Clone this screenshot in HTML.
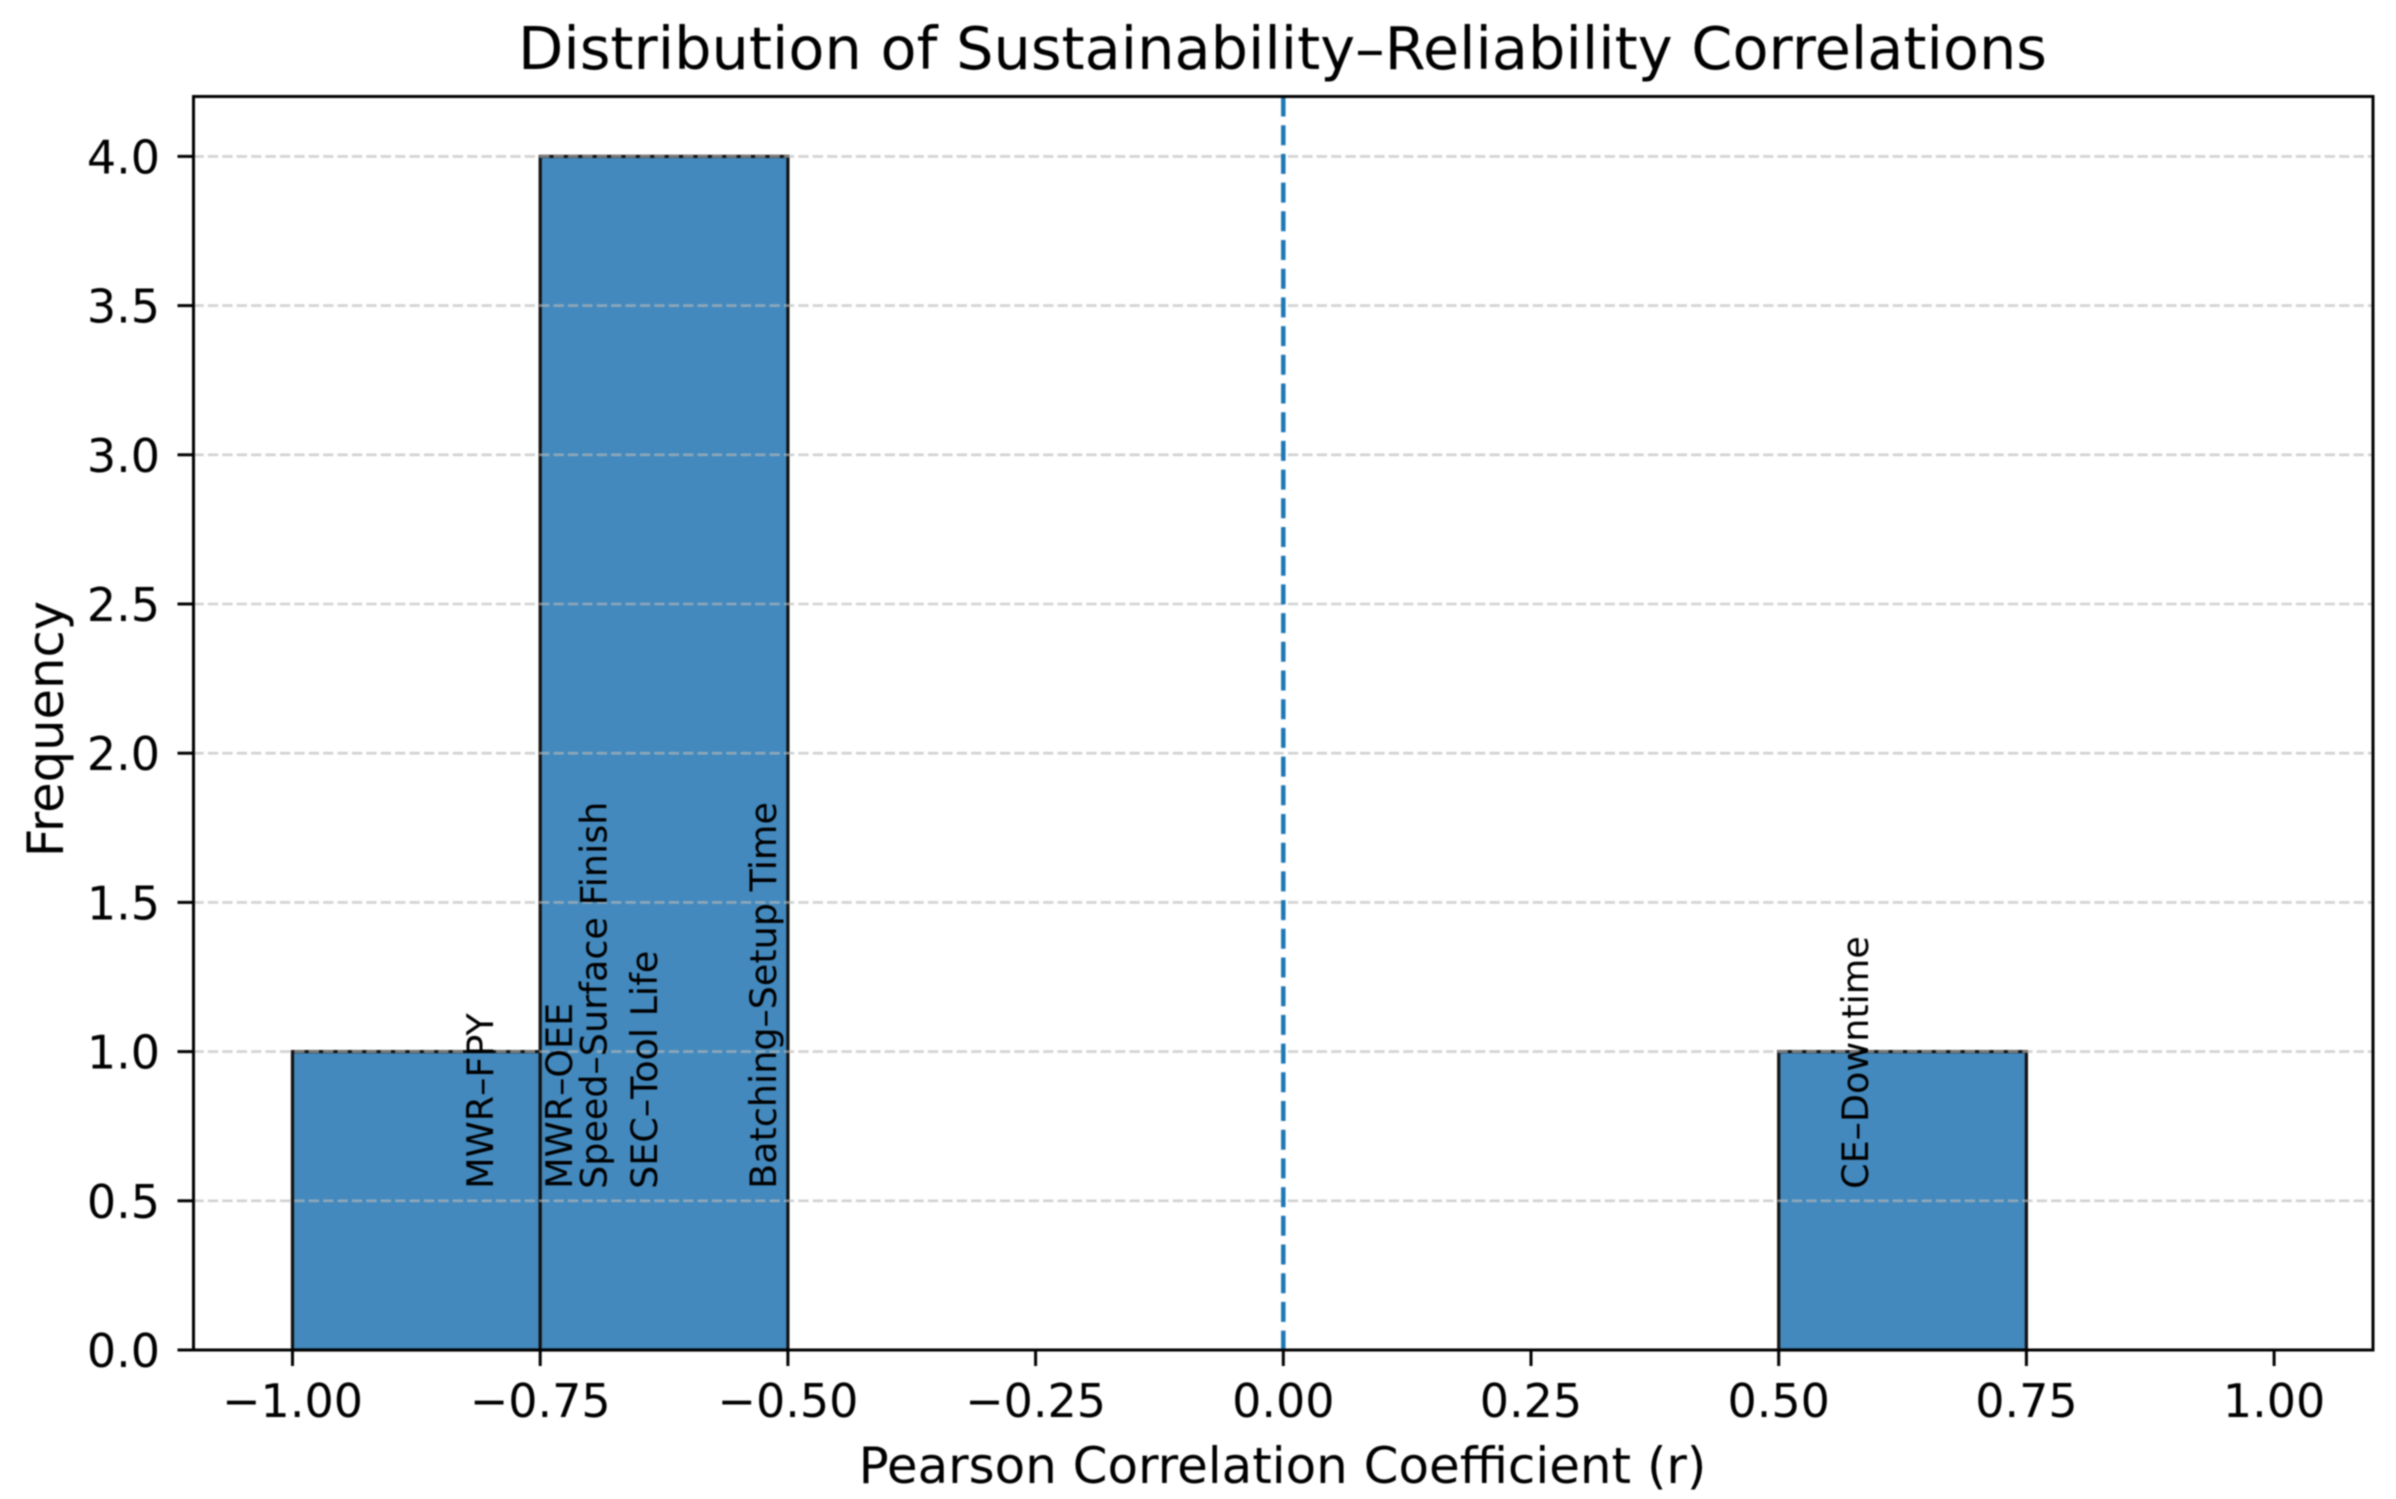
<!DOCTYPE html>
<html lang="en">
<head>
<meta charset="utf-8">
<title>Distribution of Sustainability–Reliability Correlations</title>
<style>
  html, body { margin: 0; padding: 0; background: #fff; }
  svg { display: block; filter: blur(0.7px); }
  text { font-family: "DejaVu Sans", "Liberation Sans", sans-serif; fill: #000; }
</style>
</head>
<body>
<svg id="chart" xmlns="http://www.w3.org/2000/svg" width="2396" height="1499" viewBox="0 0 2396 1499">
  <rect x="0" y="0" width="2396" height="1499" fill="#ffffff"/>
  <text x="1282.5" y="69" font-size="58.95" text-anchor="middle">Distribution of Sustainability–Reliability Correlations</text>
  <text x="1282.5" y="1483" font-size="49.9" text-anchor="middle">Pearson Correlation Coefficient (r)</text>
  <text transform="translate(63 729) rotate(-90)" font-size="49.6" text-anchor="middle">Frequency</text>
</svg>
<script>
const binEdges = [-1, -0.75, -0.5, -0.25, 0, 0.25, 0.5, 0.75, 1];
const binCounts = [1, 4, 0, 0, 0, 0, 1, 0];
const xTickValues = [-1, -0.75, -0.5, -0.25, 0, 0.25, 0.5, 0.75, 1];
const xTickLabels = ['−1.00', '−0.75', '−0.50', '−0.25', '0.00', '0.25', '0.50', '0.75', '1.00'];
const yTickValues = [0, 0.5, 1, 1.5, 2, 2.5, 3, 3.5, 4];
const yTickLabels = ['0.0', '0.5', '1.0', '1.5', '2.0', '2.5', '3.0', '3.5', '4.0'];
const pairNames = ['MWR–FPY', 'MWR–OEE', 'Speed–Surface Finish', 'SEC–Tool Life', 'Batching–Setup Time', 'CE–Downtime'];
const pairR = [-0.811, -0.731, -0.696, -0.645, -0.525, 0.577];
const pairLabelY = [0.54, 0.54, 0.54, 0.54, 0.54, 0.54];
const referenceR = [0];

const svg = document.getElementById('chart');
const NS = 'http://www.w3.org/2000/svg';
const plot = { left: 193.5, right: 2373, top: 96.5, bottom: 1350 };
const xScale = v => 1283.3 + v * 990.8;
const yScale = v => 1350 - v * 298.4;

function make(tag, attrs, text) {
  const el = document.createElementNS(NS, tag);
  for (const k in attrs) el.setAttribute(k, attrs[k]);
  if (text !== undefined) el.textContent = text;
  svg.appendChild(el);
  return el;
}

binCounts.forEach((count, i) => {
  if (count === 0) return;
  const x0 = xScale(binEdges[i]);
  const x1 = xScale(binEdges[i + 1]);
  const yTop = yScale(count);
  const bar = make('rect', { x: x0, y: yTop, width: x1 - x0, height: yScale(0) - yTop, fill: '#4389bd', stroke: '#111', 'stroke-width': 3.2 });
  
  
});

yTickValues.forEach((v, i) => {
  const y = yScale(v);
  if (v > 0) {
    const grid = make('line', { x1: plot.left, x2: plot.right, y1: y, y2: y, stroke: '#b8b8b8', 'stroke-opacity': 0.65, 'stroke-width': 2.6, 'stroke-dasharray': '10.3 4.1' });
    
    
  }
  const tick = make('line', { x1: plot.left - 16, x2: plot.left, y1: y, y2: y, stroke: '#000', 'stroke-width': 3 });
  
  
  const label = make('text', { x: 160, y: y + 17, 'font-size': 46, 'text-anchor': 'end' }, yTickLabels[i]);
  
  
});

xTickValues.forEach((v, i) => {
  const x = xScale(v);
  const tick = make('line', { x1: x, x2: x, y1: plot.bottom, y2: plot.bottom + 16, stroke: '#000', 'stroke-width': 3 });
  
  
  const label = make('text', { x: x, y: 1417, 'font-size': 46, 'text-anchor': 'middle' }, xTickLabels[i]);
  
  
});

referenceR.forEach(v => {
  const x = xScale(v);
  const line = make('line', { x1: x, x2: x, y1: plot.top, y2: plot.bottom, stroke: '#1f77b4', 'stroke-width': 4.5, 'stroke-dasharray': '20 8.7' });
  
  
});

pairNames.forEach((name, i) => {
  const x = xScale(pairR[i]) + 13;
  const y = yScale(pairLabelY[i]);
  const label = make('text', { transform: 'translate(' + x + ' ' + y + ') rotate(-90)', 'font-size': 36.5 }, name);
  
  
});

const frame = make('rect', { x: plot.left, y: plot.top, width: plot.right - plot.left, height: plot.bottom - plot.top, fill: 'none', stroke: '#000', 'stroke-width': 3 });


</script>
</body>
</html>
